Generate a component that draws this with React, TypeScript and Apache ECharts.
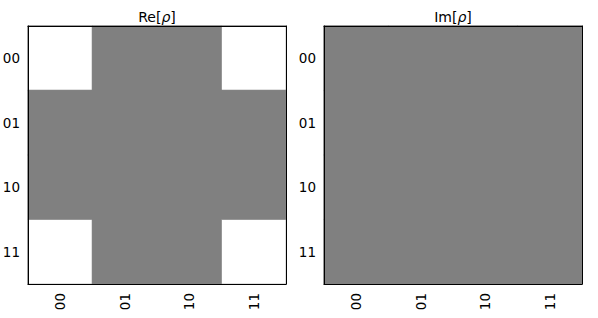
import React, { useEffect, useRef } from "react";
import * as echarts from "echarts";

const basis = ["00", "01", "10", "11"];
const reValues = [
  [0.5, 0, 0, 0.5],
  [0, 0, 0, 0],
  [0, 0, 0, 0],
  [0.5, 0, 0, 0.5],
];
const imValues = [
  [0, 0, 0, 0],
  [0, 0, 0, 0],
  [0, 0, 0, 0],
  [0, 0, 0, 0],
];
const titles = ["Re[{i|ρ}]", "Im[{i|ρ}]"];

const toCells = (m: number[][]) => {
  const out: number[][] = [];
  m.forEach((row, r) => row.forEach((v, c) => out.push([c, r, v])));
  return out;
};

export default function App() {
  const ref = useRef<HTMLDivElement>(null);
  useEffect(() => {
    const chart = echarts.init(ref.current!, null, { renderer: "svg" });
    const font = "DejaVu Sans";
    const grids = [
      { left: 28, top: 26, width: 258, height: 258, outerBoundsMode: "none", containLabel: false },
      { left: 324, top: 26, width: 258, height: 258, outerBoundsMode: "none", containLabel: false },
    ];
    const lbl = { fontFamily: font, fontSize: 13.5, color: "#000" };
    const xAxes: any[] = [];
    const yAxes: any[] = [];
    grids.forEach((_, i) => {
      xAxes.push({
        type: "category", gridIndex: i, data: basis, position: "bottom",
        axisLine: { lineStyle: { color: "#000", width: 1 } },
        axisTick: { alignWithLabel: true, length: 5, lineStyle: { color: "#000" } },
        axisLabel: { ...lbl, rotate: 90, margin: 9 },
        splitLine: { show: false }, z: 10,
      });
      xAxes.push({
        type: "category", gridIndex: i, data: basis, position: "top",
        axisLine: { lineStyle: { color: "#000", width: 1 } },
        axisTick: { show: false }, axisLabel: { show: false }, z: 10,
      });
      yAxes.push({
        type: "category", gridIndex: i, data: basis, inverse: true, position: "left",
        axisLine: { lineStyle: { color: "#000", width: 1 } },
        axisTick: { alignWithLabel: true, length: 5, lineStyle: { color: "#000" } },
        axisLabel: { ...lbl, margin: 8 },
        splitLine: { show: false }, z: 10,
      });
      yAxes.push({
        type: "category", gridIndex: i, data: basis, inverse: true, position: "right",
        axisLine: { lineStyle: { color: "#000", width: 1 } },
        axisTick: { show: false }, axisLabel: { show: false }, z: 10,
      });
    });
    chart.setOption({
      animation: false,
      backgroundColor: "#fff",
      graphic: grids.map((g, i) => ({
        type: "text",
        x: g.left + g.width / 2,
        y: 17,
        style: {
          text: titles[i],
          fontFamily: font,
          fontSize: 14,
          fill: "#000",
          align: "center",
          verticalAlign: "middle",
          rich: {
            i: { fontFamily: font, fontSize: 14, fontStyle: "italic", fill: "#000" },
          },
        },
      })),
      grid: grids,
      xAxis: xAxes,
      yAxis: yAxes,
      visualMap: {
        show: false, type: "continuous", min: -0.5, max: 0.5, seriesIndex: [0, 1],
        inRange: { color: ["#000000", "#ffffff"] },
      },
      series: [
        {
          type: "heatmap", xAxisIndex: 0, yAxisIndex: 0, data: toCells(reValues),
          itemStyle: { borderColor: "#808080", borderWidth: 1 },
        },
        {
          type: "heatmap", xAxisIndex: 2, yAxisIndex: 2, data: toCells(imValues),
          itemStyle: { borderColor: "#808080", borderWidth: 1 },
        },
      ],
    });
    return () => chart.dispose();
  }, []);
  return (
    <div
      ref={ref}
      style={{ position: "absolute", left: 0, top: 0, width: 598, height: 318 }}
    />
  );
}
